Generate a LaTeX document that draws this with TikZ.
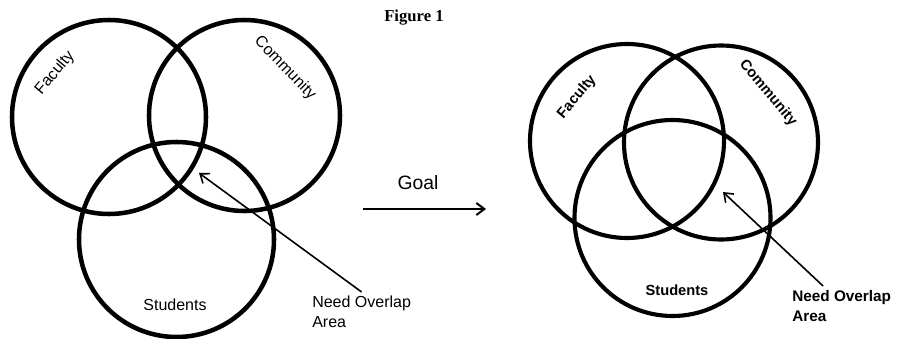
\documentclass[tikz,border=0pt]{standalone}
\usepackage{fontspec}
\setmainfont{Liberation Sans}
\newfontfamily\capfont{Liberation Serif}
\usetikzlibrary{arrows.meta}

\begin{document}
\begin{tikzpicture}[x=0.75pt,y=0.75pt,yscale=-1,xscale=1,
  ring/.style={line width=3.4pt},
  lbl/.style={inner sep=0pt,font=\fontsize{12}{13}\selectfont},
  blbl/.style={lbl,font=\fontsize{11}{13}\selectfont\bfseries},
  pointer/.style={line width=1.2pt,-{Straight Barb[length=6pt,width=9pt]}}]
\useasboundingbox (0,0) rectangle (901,339);

% Title
\node [inner sep=0pt,font=\fontsize{12.5}{14}\selectfont\capfont\bfseries] (title) at (414,18) {Figure 1};

%Shape: Circle -- left, as it is now
\draw [ring] (109,117) circle [radius=97];
\draw [ring] (244.5,115.5) circle [radius=95.5];
\draw [ring] (176.5,239.5) circle [radius=97.5];

%Shape: Circle -- right, the goal
\draw [ring,line width=3.1pt] (627,141) circle [radius=97];
\draw [ring,line width=3.1pt] (721,142.5) circle [radius=97];
\draw [ring,line width=3.1pt] (672.5,218) circle [radius=98];

% Text Node
\node [lbl,rotate=50] (lfac) at (55,73) {Faculty};
% Text Node
\node [lbl,rotate=-46] (lcom) at (285,68) {Community};
% Text Node
\node [lbl] (lstu) at (175,305) {Students};
% Text Node
\node [lbl,align=left,anchor=north west,font=\fontsize{12}{15}\selectfont] (lneed) at (312,296) {Need Overlap\\Area};

% Text Node
\node [blbl,rotate=50] (rfac) at (577,97) {Faculty};
% Text Node
\node [blbl,rotate=-50] (rcom) at (768,93) {Community};
% Text Node
\node [blbl] (rstu) at (677,290) {Students};
% Text Node
\node [blbl,align=left,anchor=north west,font=\fontsize{11.5}{15}\selectfont\bfseries] (rneed) at (792,290) {Need Overlap\\Area};

% Text Node
\node [inner sep=0pt,font=\fontsize{14.5}{16}\selectfont] (goal) at (418,183) {Goal};
\coordinate (gfrom) at (363,209);
\coordinate (gto) at (486,209);
\draw [pointer,line width=1.5pt] (gfrom) -- (gto);

%Straight Lines -- pointers to the overlap
\coordinate (lhit) at (199,173);
\coordinate (rhit) at (723,192);
\draw [pointer] ([yshift=-3pt]lneed.north) -- (lhit);
\draw [pointer] ([xshift=-14pt,yshift=-3pt]rneed.north) -- (rhit);

\end{tikzpicture}
\end{document}
